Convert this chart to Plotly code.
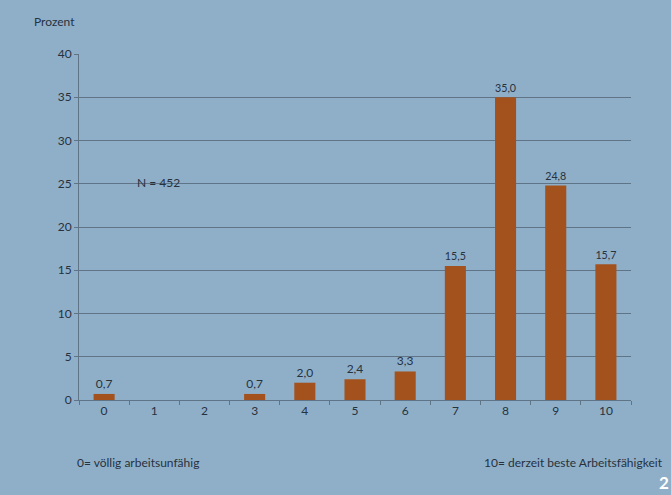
import plotly.graph_objects as go

# Arbeitsfähigkeit score distribution (percent of respondents)
scores = [str(i) for i in range(11)]
percent = [0.7, 0.0, 0.0, 0.7, 2.0, 2.4, 3.3, 15.5, 35.0, 24.8, 15.7]
y_ticks = [0, 5, 10, 15, 20, 25, 30, 35, 40]

bg = "#8fafc9"
bar_color = "#a3521e"
text_color = "#26323e"
line_color = "#5f7587"
font_family = "Lato, 'Open Sans', sans-serif"
fs = 12

labels = [f"{v:.1f}".replace(".", ",") if v > 0 else "" for v in percent]

fig = go.Figure(
    go.Bar(
        x=scores,
        y=percent,
        marker=dict(color=bar_color, line=dict(width=0)),
        text=labels,
        textposition="outside",
        cliponaxis=False,
        textfont=dict(size=fs, color=text_color, family=font_family),
        width=0.42,
    )
)

fig.update_layout(
    width=671,
    height=495,
    paper_bgcolor=bg,
    plot_bgcolor=bg,
    margin=dict(l=79, r=40, t=54, b=95),
    showlegend=False,
    font=dict(family=font_family, size=fs, color=text_color),
    xaxis=dict(
        type="category",
        showgrid=False,
        showline=True,
        linecolor=line_color,
        linewidth=1,
        ticks="outside",
        tickson="boundaries",
        ticklen=4,
        tickcolor=line_color,
        tickfont=dict(size=fs, color=text_color),
    ),
    yaxis=dict(
        range=[0, 40],
        tickvals=y_ticks,
        showgrid=True,
        gridcolor=line_color,
        gridwidth=1,
        showline=True,
        linecolor=line_color,
        ticks="outside",
        ticklen=4,
        tickcolor=line_color,
        tickfont=dict(size=fs, color=text_color),
        zeroline=False,
    ),
    annotations=[
        dict(text="Prozent", xref="paper", yref="paper", x=-0.085, y=1.095,
             xanchor="left", yanchor="middle", showarrow=False,
             font=dict(size=fs, color=text_color)),
        dict(text="N = 452", xref="x", yref="y", x=0.62, y=25.1,
             xanchor="left", yanchor="middle", showarrow=False,
             font=dict(size=fs, color=text_color)),
        dict(text="0= völlig arbeitsunfähig", xref="paper", yref="paper",
             x=-0.008, y=-0.182, xanchor="left", yanchor="middle",
             showarrow=False, font=dict(size=fs, color=text_color)),
        dict(text="10= derzeit beste Arbeitsfähigkeit", xref="paper", yref="paper",
             x=1.062, y=-0.182, xanchor="right", yanchor="middle",
             showarrow=False, font=dict(size=fs, color=text_color)),
        dict(text="<b>2</b>", xref="paper", yref="paper", x=1.0725, y=-0.2746,
             xanchor="right", yanchor="bottom", showarrow=False,
             font=dict(size=17, color="white")),
    ],
)

fig.write_html("out.html")
